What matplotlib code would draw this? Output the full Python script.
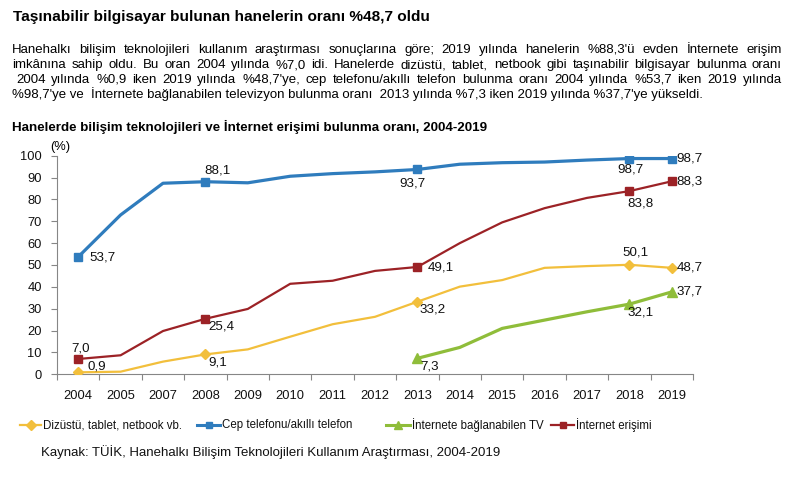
import numpy as np
import matplotlib
matplotlib.use("Agg")
import matplotlib.pyplot as plt
from matplotlib.lines import Line2D

# Data
years = ["2004", "2005", "2007", "2008", "2009", "2010", "2011", "2012",
         "2013", "2014", "2015", "2016", "2017", "2018", "2019"]
laptop = [0.9, 1.2, 5.8, 9.1, 11.4, 17.2, 22.9, 26.3, 33.2, 40.1, 43.1, 48.7, 49.5, 50.1, 48.7]
phone = [53.7, 72.9, 87.4, 88.1, 87.6, 90.6, 91.8, 92.6, 93.7, 96.1, 96.8, 97.1, 98.0, 98.7, 98.7]
smart_tv = [np.nan] * 8 + [7.3, 12.3, 21.0, 24.8, 28.6, 32.1, 37.7]
internet = [7.0, 8.7, 19.8, 25.4, 29.9, 41.4, 42.8, 47.3, 49.1, 60.0, 69.5, 76.0, 80.7, 83.8, 88.3]

series_names = ["Dizüstü, tablet, netbook vb.", "Cep telefonu/akıllı telefon",
                "İnternete bağlanabilen TV", "İnternet erişimi"]

title = "Taşınabilir bilgisayar bulunan hanelerin oranı %48,7 oldu"
paragraph = [
    "Hanehalkı bilişim teknolojileri kullanım araştırması sonuçlarına göre; 2019 yılında hanelerin %88,3'ü evden İnternete erişim",
    "imkânına sahip oldu. Bu oran 2004 yılında %7,0 idi. Hanelerde dizüstü, tablet, netbook gibi taşınabilir bilgisayar bulunma oranı",
    "2004 yılında %0,9 iken  2019 yılında %48,7'ye, cep telefonu/akıllı telefon bulunma oranı 2004 yılında %53,7 iken 2019 yılında",
    "%98,7'ye ve  İnternete bağlanabilen televizyon bulunma oranı  2013 yılında %7,3 iken 2019 yılında %37,7'ye yükseldi.",
]
subtitle = "Hanelerde bilişim teknolojileri ve İnternet erişimi bulunma oranı, 2004-2019"
source = "Kaynak: TÜİK, Hanehalkı Bilişim Teknolojileri Kullanım Araştırması, 2004-2019"

W, H = 805, 479
ARIAL = ["Liberation Sans", "DejaVu Sans"]

c_laptop = "#f2bf3c"
c_phone = "#2f7cbd"
c_tv = "#8fbd3a"
c_net = "#9c2226"

fig = plt.figure(figsize=(W / 100, H / 100), dpi=100)
fig.patch.set_facecolor("white")


def fx(px):
    return px / W


def fy(py):
    return 1 - py / H


# Header texts
fig.text(fx(13), fy(17), title, family=ARIAL, fontweight="bold", fontsize=11.1, va="center")

renderer = fig.canvas.get_renderer()


def justify(line, py, x0, x1, **kw):
    words = line.split()
    texts = [fig.text(0, fy(py), w, va="center", **kw) for w in words]
    widths = [t.get_window_extent(renderer).width for t in texts]
    gap = (x1 - x0 - sum(widths)) / (len(words) - 1)
    x = x0
    for t, w in zip(texts, widths):
        t.set_x(fx(x))
        x += w + gap


para_kw = dict(family=ARIAL, fontsize=9.5)
line_y = [50, 65, 80, 94]
justify(paragraph[0], line_y[0], 12, 782, **para_kw)
justify(paragraph[1], line_y[1], 12, 782, **para_kw)
justify(paragraph[2], line_y[2], 16, 782, **para_kw)
fig.text(fx(12), fy(line_y[3]), paragraph[3], va="center", **para_kw)

fig.text(fx(12), fy(127), subtitle, family=ARIAL, fontweight="bold", fontsize=9.6, va="center")

# Chart area
ax = fig.add_axes([fx(57), fy(374.3), fx(693) - fx(57), (374.3 - 155.7) / H])
x = np.arange(len(years))

ax.plot(x, laptop, color=c_laptop, lw=1.6, marker="D", ms=5.5,
        markevery=[0, 3, 8, 13, 14], zorder=3)
ax.plot(x, phone, color=c_phone, lw=2.3, marker="s", ms=6,
        markevery=[0, 3, 8, 13, 14], zorder=3)
ax.plot(x, smart_tv, color=c_tv, lw=2.3, marker="^", ms=7,
        markevery=[8, 13, 14], zorder=3)
ax.plot(x, internet, color=c_net, lw=1.6, marker="s", ms=5.5,
        markevery=[0, 3, 8, 13, 14], zorder=3)

ax.set_xlim(-0.5, len(years) - 0.5)
ax.set_ylim(0, 100)
ax.set_yticks(range(0, 101, 10))
ax.set_xticks(np.arange(-0.5, len(years), 1.0))
ax.set_xticklabels([])
ax.set_xticks(x, minor=True)
ax.set_xticklabels(years, minor=True)

for s in ["top", "right"]:
    ax.spines[s].set_visible(False)
for s in ["left", "bottom"]:
    ax.spines[s].set_color("#868686")
    ax.spines[s].set_linewidth(0.8)

ax.tick_params(axis="x", which="major", length=4, color="#868686", direction="out")
ax.tick_params(axis="x", which="minor", length=0, pad=11)
ax.tick_params(axis="y", length=4, color="#868686", pad=7)
for lab in ax.get_yticklabels() + ax.get_xticklabels(minor=True):
    lab.set_family(ARIAL)
    lab.set_fontsize(9.3)
    lab.set_color("#111111")

ax.text(-0.01, 1.04, "(%)", transform=ax.transAxes, family=ARIAL, fontsize=9.3,
        ha="left", va="center")

# Data labels, offsets in pixels from the point
label_kw = dict(textcoords="offset pixels", family=ARIAL, fontsize=9.6,
                va="center", color="#111111", zorder=4)


def label(vals, i, dx, dy, ha):
    ax.annotate(f"{vals[i]:.1f}".replace(".", ","), (x[i], vals[i]),
                xytext=(dx, dy), ha=ha, **label_kw)


label(phone, 0, 11, -1, "left")
label(phone, 3, 12, 11, "center")
label(phone, 8, -5, -14, "center")
label(phone, 13, 1, -11, "center")
label(phone, 14, 5, 0, "left")

label(internet, 0, 2, 10, "center")
label(internet, 3, 3, -8, "left")
label(internet, 8, 10, -1, "left")
label(internet, 13, 11, -12, "center")
label(internet, 14, 5, 0, "left")

label(laptop, 0, 9, 6, "left")
label(laptop, 3, 3, -8, "left")
label(laptop, 8, 15, -8, "center")
label(laptop, 13, 6, 12, "center")
label(laptop, 14, 5, 0, "left")

label(smart_tv, 8, 12, -8, "center")
label(smart_tv, 13, 11, -8, "center")
label(smart_tv, 14, 5, 0, "left")

# Legend drawn by hand to follow the reference layout
legend_items = [
    (20, 43, c_laptop, "D", 5, 1.6),
    (197, 222, c_phone, "s", 5, 2.2),
    (386, 412, c_tv, "^", 6, 2.2),
    (551, 576, c_net, "s", 5, 1.6),
]
for (hx, tx, col, mk, ms, lw), name in zip(legend_items, series_names):
    ly = fy(425)
    fig.add_artist(Line2D([fx(hx), fx(tx - 2)], [ly, ly], color=col, lw=lw,
                          transform=fig.transFigure))
    fig.add_artist(Line2D([fx((hx + tx - 2) / 2)], [ly], color=col, marker=mk, ms=ms,
                          transform=fig.transFigure))
    fig.text(fx(tx), ly, name, family=ARIAL, fontsize=8.3, va="center", color="#111111")

fig.text(fx(41), fy(452), source, family=ARIAL, fontsize=9.5, va="center", color="#111111")

fig.savefig("out.png", dpi=100, facecolor="white")
